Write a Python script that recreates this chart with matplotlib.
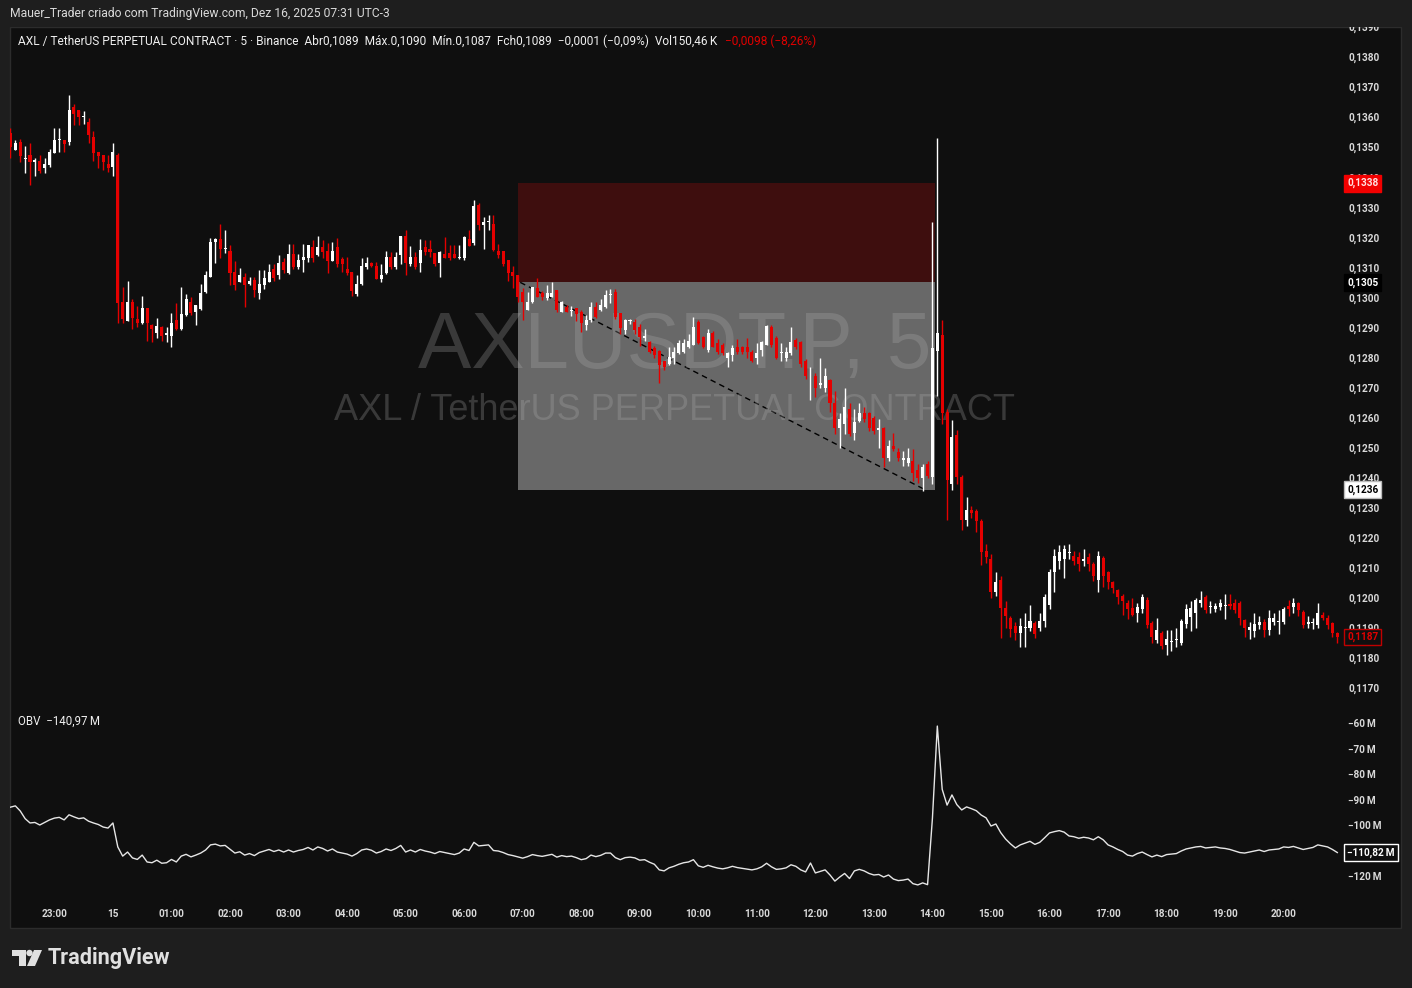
import matplotlib
matplotlib.use("Agg")
import matplotlib.pyplot as plt
import matplotlib.transforms as mtransforms
from matplotlib.patches import Rectangle, Polygon, Circle
from matplotlib.ticker import FuncFormatter
import numpy as np
import pandas as pd

############################### data ###############################
# AXLUSDT.P 5 min candles, prices in units of 0.0001
first_bar = "2025-12-14 22:15"

opens = [
    1354.7, 1349.0, 1351.7, 1346.0, 1347.4, 1345.0, 1345.4, 1343.0, 1344.0, 1348.0, 1352.4, 1352.4,
    1351.7, 1363.4, 1362.4, 1360.0, 1358.4, 1353.4, 1348.4, 1347.4, 1344.4, 1343.4, 1347.4, 1298.4,
    1292.0, 1298.4, 1292.7, 1291.4, 1296.4, 1290.7, 1288.0, 1290.0, 1287.4, 1287.0, 1292.4, 1289.4,
    1294.0, 1298.4, 1295.0, 1296.0, 1301.7, 1306.7, 1318.4, 1319.4, 1316.0, 1315.4, 1308.4, 1305.0,
    1306.7, 1304.4, 1305.7, 1301.4, 1304.0, 1305.0, 1309.4, 1307.4, 1311.7, 1308.0, 1314.4, 1310.0,
    1312.4, 1313.0, 1316.7, 1314.0, 1316.7, 1315.4, 1312.0, 1316.7, 1312.7, 1309.4, 1308.4, 1301.0,
    1304.4, 1310.0, 1311.4, 1310.4, 1306.0, 1308.0, 1313.4, 1310.0, 1314.0, 1320.4, 1311.0, 1313.4,
    1311.4, 1316.7, 1316.0, 1314.7, 1311.4, 1314.4, 1314.7, 1314.4, 1313.0, 1313.0, 1319.4, 1318.0,
    1330.7, 1324.0, 1325.0, 1324.4, 1315.4, 1315.4, 1312.4, 1308.4, 1307.4, 1301.7, 1295.7, 1298.4,
    1303.0, 1301.4, 1299.7, 1300.0, 1302.4, 1295.0, 1296.7, 1295.4, 1296.4, 1295.0, 1290.7, 1292.4,
    1296.7, 1295.7, 1296.7, 1300.7, 1301.7, 1294.7, 1289.0, 1292.0, 1291.7, 1290.0, 1286.4, 1285.0,
    1283.0, 1282.0, 1279.0, 1277.7, 1280.0, 1281.4, 1281.7, 1283.4, 1284.0, 1291.7, 1286.7, 1282.4,
    1288.0, 1284.7, 1284.0, 1279.7, 1280.7, 1283.4, 1283.4, 1283.4, 1281.7, 1280.0, 1282.4, 1284.0,
    1290.0, 1286.4, 1281.4, 1280.0, 1281.4, 1285.7, 1285.0, 1279.0, 1275.7, 1274.0, 1271.0, 1269.7,
    1272.4, 1264.7, 1256.4, 1258.0, 1263.0, 1255.0, 1259.0, 1261.4, 1261.4, 1260.0, 1256.0, 1256.4,
    1246.4, 1250.7, 1248.4, 1246.0, 1245.0, 1245.7, 1242.4, 1240.0, 1244.7, 1240.2, 1282.2, 1287.5,
    1261.9, 1237.9, 1254.2, 1240.2, 1225.9, 1229.2, 1228.8, 1225.6, 1215.6, 1212.9, 1202.0, 1206.0,
    1196.6, 1193.3, 1190.6, 1188.3, 1190.0, 1190.0, 1191.6, 1190.0, 1192.3, 1197.6, 1208.6, 1212.3,
    1213.0, 1215.0, 1214.0, 1213.6, 1212.3, 1213.6, 1211.3, 1206.0, 1213.3, 1208.6, 1205.3, 1202.6,
    1200.6, 1198.3, 1196.7, 1195.0, 1196.3, 1199.3, 1191.7, 1186.0, 1188.3, 1184.3, 1185.3, 1186.0,
    1185.0, 1191.3, 1193.7, 1195.0, 1198.3, 1200.3, 1197.0, 1196.3, 1197.0, 1197.3, 1198.0, 1198.3,
    1198.3, 1192.6, 1189.3, 1189.0, 1191.0, 1192.0, 1189.3, 1192.0, 1192.0, 1192.0, 1197.3, 1197.0,
    1198.3, 1195.3, 1191.3, 1191.6, 1191.0, 1194.3, 1193.3, 1191.6, 1188.3,
]
highs = [
    1356.3, 1352.4, 1352.7, 1350.3, 1351.4, 1346.4, 1347.4, 1346.4, 1349.4, 1356.3, 1356.3, 1352.4,
    1367.4, 1364.4, 1362.4, 1362.0, 1359.7, 1355.4, 1348.4, 1347.4, 1347.4, 1351.4, 1348.0, 1303.4,
    1305.4, 1299.4, 1297.0, 1300.4, 1296.4, 1291.0, 1293.0, 1290.4, 1290.0, 1294.7, 1298.0, 1303.4,
    1301.0, 1300.0, 1297.4, 1304.4, 1308.7, 1319.7, 1319.7, 1324.4, 1322.4, 1317.4, 1312.0, 1309.7,
    1308.0, 1306.7, 1306.7, 1309.0, 1309.0, 1311.0, 1311.0, 1314.0, 1313.0, 1317.7, 1317.7, 1314.4,
    1317.7, 1317.4, 1319.0, 1320.4, 1319.0, 1318.0, 1318.4, 1319.7, 1313.4, 1313.4, 1308.4, 1307.4,
    1313.0, 1313.4, 1311.7, 1311.7, 1311.0, 1315.4, 1315.0, 1315.0, 1320.4, 1322.4, 1317.0, 1315.0,
    1319.4, 1319.0, 1319.0, 1314.7, 1315.4, 1320.0, 1317.4, 1317.4, 1317.4, 1320.4, 1322.4, 1332.4,
    1331.4, 1326.7, 1327.4, 1327.4, 1317.7, 1315.4, 1312.4, 1310.4, 1307.4, 1303.0, 1301.7, 1303.4,
    1306.4, 1302.0, 1304.0, 1305.0, 1302.4, 1298.7, 1297.4, 1297.0, 1296.4, 1295.7, 1294.0, 1298.4,
    1298.4, 1299.4, 1302.4, 1302.7, 1302.7, 1294.7, 1292.7, 1292.7, 1292.7, 1291.0, 1289.4, 1285.4,
    1283.7, 1282.4, 1279.0, 1283.4, 1283.4, 1285.7, 1286.0, 1287.7, 1293.4, 1292.4, 1287.0, 1289.4,
    1288.7, 1286.0, 1284.7, 1281.7, 1284.0, 1286.0, 1283.7, 1286.4, 1282.4, 1284.7, 1285.4, 1290.7,
    1290.7, 1287.0, 1284.7, 1283.4, 1290.0, 1286.4, 1285.4, 1279.4, 1276.7, 1274.7, 1280.0, 1276.4,
    1272.7, 1269.0, 1261.4, 1270.0, 1264.7, 1263.0, 1265.0, 1263.4, 1262.0, 1260.4, 1259.7, 1257.0,
    1252.7, 1255.0, 1250.0, 1249.0, 1250.0, 1249.7, 1244.4, 1244.7, 1245.7, 1325.1, 1353.0, 1292.5,
    1263.0, 1259.2, 1256.0, 1241.0, 1233.6, 1230.5, 1229.5, 1226.3, 1218.0, 1214.5, 1208.7, 1207.4,
    1199.0, 1194.0, 1192.0, 1193.4, 1195.0, 1197.5, 1192.3, 1195.0, 1201.3, 1209.6, 1216.2, 1217.6,
    1217.6, 1217.8, 1215.6, 1215.3, 1216.3, 1215.0, 1212.0, 1215.6, 1214.0, 1209.0, 1205.6, 1203.0,
    1201.3, 1199.3, 1200.0, 1198.3, 1201.3, 1200.3, 1192.3, 1193.3, 1189.0, 1189.3, 1189.3, 1190.0,
    1193.0, 1198.0, 1199.0, 1200.0, 1202.3, 1201.0, 1199.0, 1198.3, 1199.6, 1201.3, 1201.3, 1199.6,
    1199.0, 1193.0, 1192.0, 1195.0, 1194.0, 1193.0, 1196.0, 1195.0, 1196.0, 1197.0, 1199.3, 1200.0,
    1198.7, 1196.0, 1194.0, 1193.3, 1198.3, 1195.3, 1194.3, 1192.0, 1188.6,
]
lows = [
    1346.4, 1349.0, 1345.0, 1341.4, 1337.4, 1340.4, 1341.4, 1341.4, 1343.4, 1348.0, 1348.4, 1348.4,
    1350.7, 1357.4, 1357.4, 1357.7, 1351.4, 1345.4, 1343.0, 1342.4, 1341.7, 1340.4, 1291.4, 1291.4,
    1292.0, 1289.4, 1290.0, 1291.0, 1285.4, 1285.0, 1286.4, 1285.4, 1285.0, 1283.4, 1289.0, 1289.0,
    1293.7, 1294.0, 1290.7, 1295.7, 1301.4, 1306.7, 1311.4, 1313.0, 1314.7, 1304.0, 1302.4, 1305.0,
    1296.7, 1304.0, 1300.0, 1299.4, 1302.7, 1305.0, 1305.4, 1306.0, 1308.0, 1307.7, 1309.4, 1309.4,
    1308.4, 1311.7, 1311.7, 1313.7, 1313.0, 1308.0, 1312.0, 1310.0, 1308.4, 1307.4, 1300.4, 1300.4,
    1304.0, 1309.4, 1310.0, 1306.0, 1305.0, 1307.7, 1309.4, 1309.4, 1311.0, 1307.4, 1310.4, 1309.4,
    1308.4, 1314.0, 1313.4, 1310.4, 1306.7, 1313.0, 1312.4, 1313.0, 1312.7, 1312.4, 1317.0, 1317.4,
    1322.4, 1316.0, 1322.4, 1315.4, 1313.0, 1310.4, 1305.4, 1303.0, 1298.4, 1292.4, 1295.7, 1298.0,
    1300.0, 1299.0, 1299.0, 1300.0, 1295.0, 1295.0, 1295.0, 1293.7, 1292.0, 1288.4, 1289.0, 1291.7,
    1293.0, 1295.4, 1296.4, 1298.0, 1292.7, 1287.7, 1287.7, 1291.0, 1287.7, 1283.7, 1285.4, 1281.4,
    1280.0, 1271.4, 1275.7, 1277.4, 1278.0, 1281.0, 1281.4, 1283.0, 1284.0, 1284.4, 1283.0, 1281.7,
    1283.4, 1281.0, 1280.7, 1276.7, 1279.0, 1281.0, 1281.0, 1279.7, 1278.4, 1278.0, 1280.4, 1284.0,
    1283.4, 1279.4, 1278.7, 1278.7, 1280.7, 1282.7, 1276.7, 1273.0, 1265.7, 1267.0, 1270.0, 1268.4,
    1262.0, 1254.7, 1250.0, 1254.7, 1254.0, 1252.7, 1258.4, 1258.4, 1255.4, 1254.7, 1250.0, 1243.4,
    1245.7, 1249.0, 1245.7, 1244.0, 1244.0, 1239.0, 1238.4, 1235.7, 1240.0, 1238.0, 1267.2, 1258.0,
    1225.9, 1236.0, 1238.0, 1222.6, 1224.0, 1226.5, 1222.0, 1211.0, 1211.5, 1200.0, 1200.7, 1186.7,
    1190.0, 1187.0, 1186.0, 1183.7, 1183.5, 1189.0, 1186.6, 1189.0, 1190.3, 1196.3, 1202.0, 1209.6,
    1206.6, 1212.8, 1211.0, 1209.0, 1210.6, 1209.0, 1205.6, 1202.0, 1203.6, 1203.0, 1201.6, 1198.0,
    1194.3, 1193.0, 1194.0, 1192.0, 1195.0, 1190.0, 1185.0, 1185.0, 1183.0, 1181.0, 1182.3, 1183.6,
    1184.3, 1190.0, 1189.0, 1190.0, 1197.0, 1195.0, 1195.0, 1195.3, 1196.0, 1193.0, 1196.3, 1195.0,
    1191.0, 1187.0, 1186.3, 1187.0, 1189.6, 1187.0, 1187.6, 1191.0, 1188.0, 1191.3, 1194.0, 1195.0,
    1194.0, 1190.0, 1190.0, 1189.6, 1190.0, 1192.6, 1189.6, 1187.0, 1185.0,
]
closes = [
    1350.0, 1351.4, 1347.0, 1346.3, 1345.0, 1345.7, 1342.0, 1344.3, 1348.4, 1352.4, 1352.7, 1351.0,
    1362.4, 1361.0, 1360.0, 1360.4, 1354.0, 1348.0, 1347.0, 1345.0, 1343.0, 1348.4, 1298.0, 1292.7,
    1298.4, 1293.0, 1291.4, 1296.4, 1291.4, 1289.4, 1290.4, 1287.0, 1288.0, 1291.4, 1289.4, 1294.4,
    1299.4, 1294.7, 1297.4, 1301.4, 1307.4, 1318.4, 1319.4, 1316.0, 1316.4, 1308.0, 1304.0, 1307.4,
    1304.0, 1305.4, 1302.4, 1304.4, 1306.4, 1308.4, 1306.4, 1311.4, 1309.0, 1314.4, 1310.0, 1312.4,
    1313.4, 1317.4, 1313.0, 1316.7, 1315.0, 1312.0, 1315.4, 1311.0, 1311.0, 1308.0, 1302.0, 1304.4,
    1310.4, 1311.4, 1310.4, 1306.0, 1307.4, 1313.4, 1310.0, 1313.4, 1320.4, 1311.4, 1313.4, 1310.0,
    1315.7, 1315.0, 1315.0, 1311.0, 1315.0, 1313.0, 1313.0, 1313.0, 1313.4, 1320.0, 1317.0, 1330.4,
    1324.0, 1325.0, 1325.4, 1315.7, 1314.0, 1311.0, 1308.0, 1307.0, 1300.0, 1298.4, 1298.4, 1303.4,
    1300.0, 1300.0, 1301.4, 1301.4, 1295.7, 1298.4, 1295.0, 1295.7, 1294.4, 1291.4, 1292.4, 1296.7,
    1293.4, 1297.4, 1300.7, 1301.0, 1293.4, 1289.7, 1292.4, 1292.4, 1289.0, 1286.7, 1287.0, 1281.7,
    1280.7, 1277.4, 1276.7, 1280.0, 1281.7, 1284.7, 1284.7, 1285.4, 1290.0, 1284.7, 1283.4, 1288.0,
    1283.4, 1281.7, 1281.4, 1281.4, 1283.0, 1281.7, 1281.7, 1281.7, 1279.0, 1281.4, 1285.0, 1290.4,
    1284.0, 1280.0, 1281.7, 1281.7, 1285.0, 1283.4, 1278.0, 1274.0, 1276.0, 1270.0, 1271.4, 1274.0,
    1264.7, 1256.4, 1259.7, 1263.4, 1254.7, 1258.4, 1261.4, 1259.7, 1256.7, 1255.7, 1256.4, 1246.7,
    1250.7, 1249.7, 1246.4, 1246.4, 1246.7, 1241.7, 1240.0, 1243.4, 1240.7, 1283.2, 1288.2, 1261.5,
    1239.2, 1253.5, 1240.2, 1225.9, 1229.2, 1228.2, 1225.6, 1215.3, 1213.6, 1202.0, 1205.3, 1196.6,
    1194.0, 1189.6, 1188.3, 1190.6, 1190.3, 1192.3, 1188.0, 1192.3, 1200.3, 1208.6, 1214.0, 1215.3,
    1216.3, 1215.3, 1212.3, 1211.3, 1213.0, 1211.3, 1207.3, 1214.0, 1207.3, 1205.3, 1203.3, 1200.3,
    1199.0, 1196.3, 1194.3, 1197.0, 1200.3, 1191.0, 1187.0, 1189.3, 1184.0, 1186.3, 1185.6, 1186.3,
    1192.3, 1196.3, 1196.6, 1199.3, 1199.3, 1196.0, 1197.3, 1197.3, 1198.3, 1197.4, 1197.3, 1196.0,
    1193.3, 1190.0, 1190.3, 1191.3, 1192.0, 1189.3, 1193.3, 1193.3, 1192.2, 1196.3, 1196.3, 1198.3,
    1196.0, 1191.0, 1192.0, 1192.0, 1195.0, 1193.3, 1191.0, 1188.3, 1187.0,
]
# on balance volume, millions
obv = [
    -93.0, -92.5, -94.5, -97.5, -99.2, -99.0, -100.0, -99.0, -98.0, -97.3, -97.0, -98.0,
    -96.0, -96.8, -97.5, -97.2, -98.5, -99.2, -99.8, -100.8, -101.2, -99.2, -108.6, -112.2,
    -110.6, -112.9, -113.5, -111.8, -114.5, -114.8, -113.8, -115.0, -114.8, -113.5, -114.5, -112.2,
    -111.5, -112.5, -111.8, -111.0, -109.8, -107.8, -107.5, -108.2, -108.0, -109.5, -111.0, -110.5,
    -111.8, -111.2, -112.0, -110.8, -110.2, -109.6, -110.4, -109.8, -110.6, -109.8, -110.6, -110.0,
    -109.6, -108.8, -109.8, -108.6, -109.2, -110.2, -109.4, -110.6, -111.0, -111.4, -112.2, -111.2,
    -109.8, -109.4, -109.9, -111.0, -110.4, -109.4, -110.0, -109.2, -108.0, -110.6, -109.8, -110.6,
    -109.6, -110.2, -110.6, -111.2, -110.4, -110.8, -111.2, -111.6, -111.0, -109.4, -110.0, -106.8,
    -108.2, -108.0, -107.8, -110.0, -110.2, -110.8, -111.6, -112.0, -112.5, -113.0, -112.4, -111.6,
    -112.0, -112.3, -111.9, -111.5, -112.6, -112.0, -112.4, -112.2, -112.8, -113.6, -113.2, -111.8,
    -112.4, -111.9, -111.0, -111.0, -112.8, -113.6, -112.8, -112.6, -112.9, -113.8, -113.6, -114.6,
    -115.4, -117.6, -118.0, -116.8, -116.2, -115.4, -114.8, -114.5, -113.6, -116.0, -116.6, -115.8,
    -116.4, -116.9, -117.2, -116.8, -116.2, -116.7, -117.0, -117.3, -117.6, -117.2, -116.4, -115.0,
    -116.4, -117.4, -117.2, -116.8, -115.6, -116.2, -117.6, -118.4, -114.9, -118.8, -118.2, -117.6,
    -119.6, -122.0, -120.4, -119.0, -121.0, -118.0, -117.4, -118.0, -119.0, -119.6, -119.4, -120.4,
    -119.6, -121.2, -121.8, -121.6, -121.2, -123.0, -123.5, -122.7, -123.4, -97.3, -61.2, -86.0,
    -92.2, -88.2, -92.0, -94.1, -92.9, -93.6, -94.4, -96.1, -97.2, -100.4, -99.6, -103.0,
    -105.5, -107.4, -109.0, -107.8, -107.1, -106.4, -107.6, -106.8, -105.0, -103.1, -102.6, -102.2,
    -102.8, -104.3, -104.6, -105.2, -104.8, -105.1, -105.8, -104.6, -105.8, -107.8, -108.6, -109.6,
    -110.4, -111.8, -112.2, -111.2, -110.6, -111.6, -112.5, -111.8, -112.4, -111.6, -111.4, -111.2,
    -110.2, -109.4, -109.0, -108.6, -108.4, -109.0, -108.8, -108.6, -109.0, -109.2, -109.6, -110.2,
    -110.8, -111.0, -110.6, -110.2, -109.8, -110.4, -109.8, -109.6, -109.4, -108.6, -108.8, -108.4,
    -109.0, -109.6, -109.2, -108.8, -107.8, -108.2, -108.6, -109.6, -110.8,
]

# short position tool drawn on the chart
tool_start = "2025-12-15 06:55"
tool_end = "2025-12-15 14:00"
line_end = "2025-12-15 13:50"
stop_price = 0.1338
entry_price = 0.1305
target_price = 0.1236
last_close = 0.1187
obv_last = -110.82

title_line = "Mauer_Trader criado com TradingView.com, Dez 16, 2025 07:31 UTC-3"
legend_white = ("AXL / TetherUS PERPETUAL CONTRACT \u00b7 5 \u00b7 Binance  Abr0,1089  M\u00e1x.0,1090  "
                "M\u00edn.0,1087  Fch0,1089  \u22120,0001 (\u22120,09%)  Vol150,46\u2009K")
legend_red = "\u22120,0098 (\u22128,26%)"
obv_legend = "OBV  \u2212140,97\u2009M"

############################### figure ###############################
W, H = 1412, 988
BG = "#0f0f0f"
FRAME = "#1e1e1e"
UP = "#ffffff"
DOWN = "#e50000"
TXT = "#d9d9d9"
FONT = ["Roboto", "DejaVu Sans"]

o = np.array(opens) / 1e4
h = np.array(highs) / 1e4
l = np.array(lows) / 1e4
c = np.array(closes) / 1e4
times = pd.date_range(first_bar, periods=len(c), freq="5min")
x = np.arange(len(c))


def bar_of(t):
    return times.get_loc(pd.Timestamp(t))


fig = plt.figure(figsize=(W / 100, H / 100), dpi=100, facecolor=FRAME)
px = mtransforms.Affine2D().scale(1 / W, -1 / H).translate(0, 1) + fig.transFigure

# chart panel
fig.patches.append(Rectangle((10, 27), 1391, 901, transform=px, facecolor=BG,
                             edgecolor="#2c2c2c", lw=1, zorder=-1))

ax = fig.add_axes([10 / W, 1 - 706 / H, 1330 / W, 680 / H])
ax2 = fig.add_axes([10 / W, 1 - 898 / H, 1330 / W, 192 / H], sharex=ax)
for a in (ax, ax2):
    a.set_facecolor("none")
    for s in a.spines.values():
        s.set_visible(False)
    a.yaxis.tick_right()
    a.tick_params(axis="y", length=0, pad=5.8, labelcolor=TXT, labelsize=7.2)
    a.tick_params(axis="x", length=0, labelbottom=False)

ax.set_xlim(-0.1, len(c) - 0.45)
ax.set_ylim(0.1380 - 649 / 30050, 0.1380 + 31 / 30050)
ax2.set_ylim(-60 - 175 / 2.55, -60 + 17 / 2.55)

ax.set_yticks(np.arange(0.117, 0.1395, 0.001))
ax.yaxis.set_major_formatter(FuncFormatter(lambda v, p: f"{v:.4f}".replace(".", ",")))
ax2.set_yticks(np.arange(-120, -59, 10))
ax2.yaxis.set_major_formatter(FuncFormatter(lambda v, p: f"\u2212{abs(v):.0f}\u2009M"))
for a in (ax, ax2):
    for lab in a.get_yticklabels():
        lab.set_fontweight("bold")
        lab.set_family(FONT)

# position tool
x0 = bar_of(tool_start)
x1 = bar_of(tool_end) + 0.5
ax.add_patch(Rectangle((x0, entry_price), x1 - x0, stop_price - entry_price,
                       facecolor="#3e0e0e", edgecolor="none", zorder=0.8))
ax.add_patch(Rectangle((x0, target_price), x1 - x0, entry_price - target_price,
                       facecolor="#686868", edgecolor="none", zorder=0.8))
ax.plot([x0 + 0.5, bar_of(line_end) + 0.5], [entry_price, target_price], color="black",
        lw=1, ls=(0, (4, 3)), zorder=0.9)

# watermark
ax.text(675 / W, 1 - 368 / H, "AXLUSDT.P, 5", transform=fig.transFigure, ha="center",
        va="baseline", fontsize=57.5, family="Liberation Sans", color="#b4b4b4", alpha=0.26, zorder=1.5)
ax.text(675 / W, 1 - 420 / H, "AXL / TetherUS PERPETUAL CONTRACT", transform=fig.transFigure,
        ha="center", va="baseline", fontsize=26, family="Liberation Sans", color="#b4b4b4",
        alpha=0.26, zorder=1.5)

# candles
up = c >= o
cols = np.where(up, UP, DOWN)
ax.vlines(x, l, h, colors=cols, lw=1, zorder=2)
body = np.maximum(np.abs(c - o), 0.00003)
ax.bar(x, body, bottom=np.minimum(o, c), width=0.62, color=cols, linewidth=0, zorder=3)

# OBV
ax2.plot(x, obv, color="#e6e6e6", lw=1)

# time labels
tr = mtransforms.blended_transform_factory(ax2.transData, px)
for i, t in enumerate(times):
    if t.minute == 0:
        lab = str(t.day) if t.hour == 0 else t.strftime("%H:%M")
        ax2.text(i, 914, lab, transform=tr, ha="center", va="center", fontsize=7.2,
                 fontweight="bold", color=TXT, family=FONT)


# price / value tags on the right scale
def tag(a, y, text, fc, tc, ec=None):
    tt = mtransforms.blended_transform_factory(a.transAxes, a.transData)
    a.text(1337 / 1330, y, text, transform=tt, ha="left", va="center", fontsize=7.2,
           fontweight="bold", color=tc, family=FONT, zorder=6,
           bbox=dict(boxstyle="square,pad=0.32", fc=fc, ec=ec or fc, lw=1))


tag(ax, stop_price, f"{stop_price:.4f}".replace(".", ","), "#f20000", "#ffe0e0")
tag(ax, entry_price, f"{entry_price:.4f}".replace(".", ","), "#000000", "#ffffff")
tag(ax, target_price, f"{target_price:.4f}".replace(".", ","), "#ffffff", "#000000", "#bbbbbb")
tag(ax, last_close, f"{last_close:.4f}".replace(".", ","), BG, "#e00000", "#c00000")
tag(ax2, obv_last, f"\u2212{abs(obv_last):.2f}\u2009M".replace(".", ","), BG, "#ffffff", "#ffffff")

# header strip on top (hides the clipped upper tick)
fig.patches.append(Rectangle((0, 0), W, 27, transform=px, facecolor=FRAME, edgecolor="none", zorder=5))
fig.text(10, 14, title_line, transform=px, va="center", ha="left", fontsize=8.7,
         color=TXT, family=FONT, zorder=6)
t1 = fig.text(18, 41, legend_white, transform=px, va="center", ha="left", fontsize=8.6,
              color="#f0f0f0", family=FONT, zorder=6)
fig.canvas.draw()
bb = t1.get_window_extent(fig.canvas.get_renderer())
fig.text(bb.x1 + 8, 41, legend_red, transform=px, va="center", ha="left",
         fontsize=8.6, color="#e00000", family=FONT, zorder=6)
fig.text(18, 721, obv_legend, transform=px, va="center", ha="left", fontsize=8.3,
         color="#f0f0f0", family=FONT, zorder=6)

# TradingView logo
logo = "#e0e0e0"
fig.patches.append(Polygon([(12, 950), (26, 950), (26, 966), (19, 966), (19, 956), (12, 956)],
                           closed=True, transform=px, fc=logo, ec="none", zorder=6))
fig.patches.append(Circle((29.5, 953), 3.2, transform=px, fc=logo, ec="none", zorder=6))
fig.patches.append(Polygon([(34, 950), (42, 950), (35, 966), (27, 966)], closed=True,
                           transform=px, fc=logo, ec="none", zorder=6))
fig.text(48, 958, "TradingView", transform=px, va="center", ha="left", fontsize=15.6,
         fontweight="bold", color=logo, family=FONT, zorder=6)

fig.savefig("out.png", dpi=100, facecolor=FRAME)
